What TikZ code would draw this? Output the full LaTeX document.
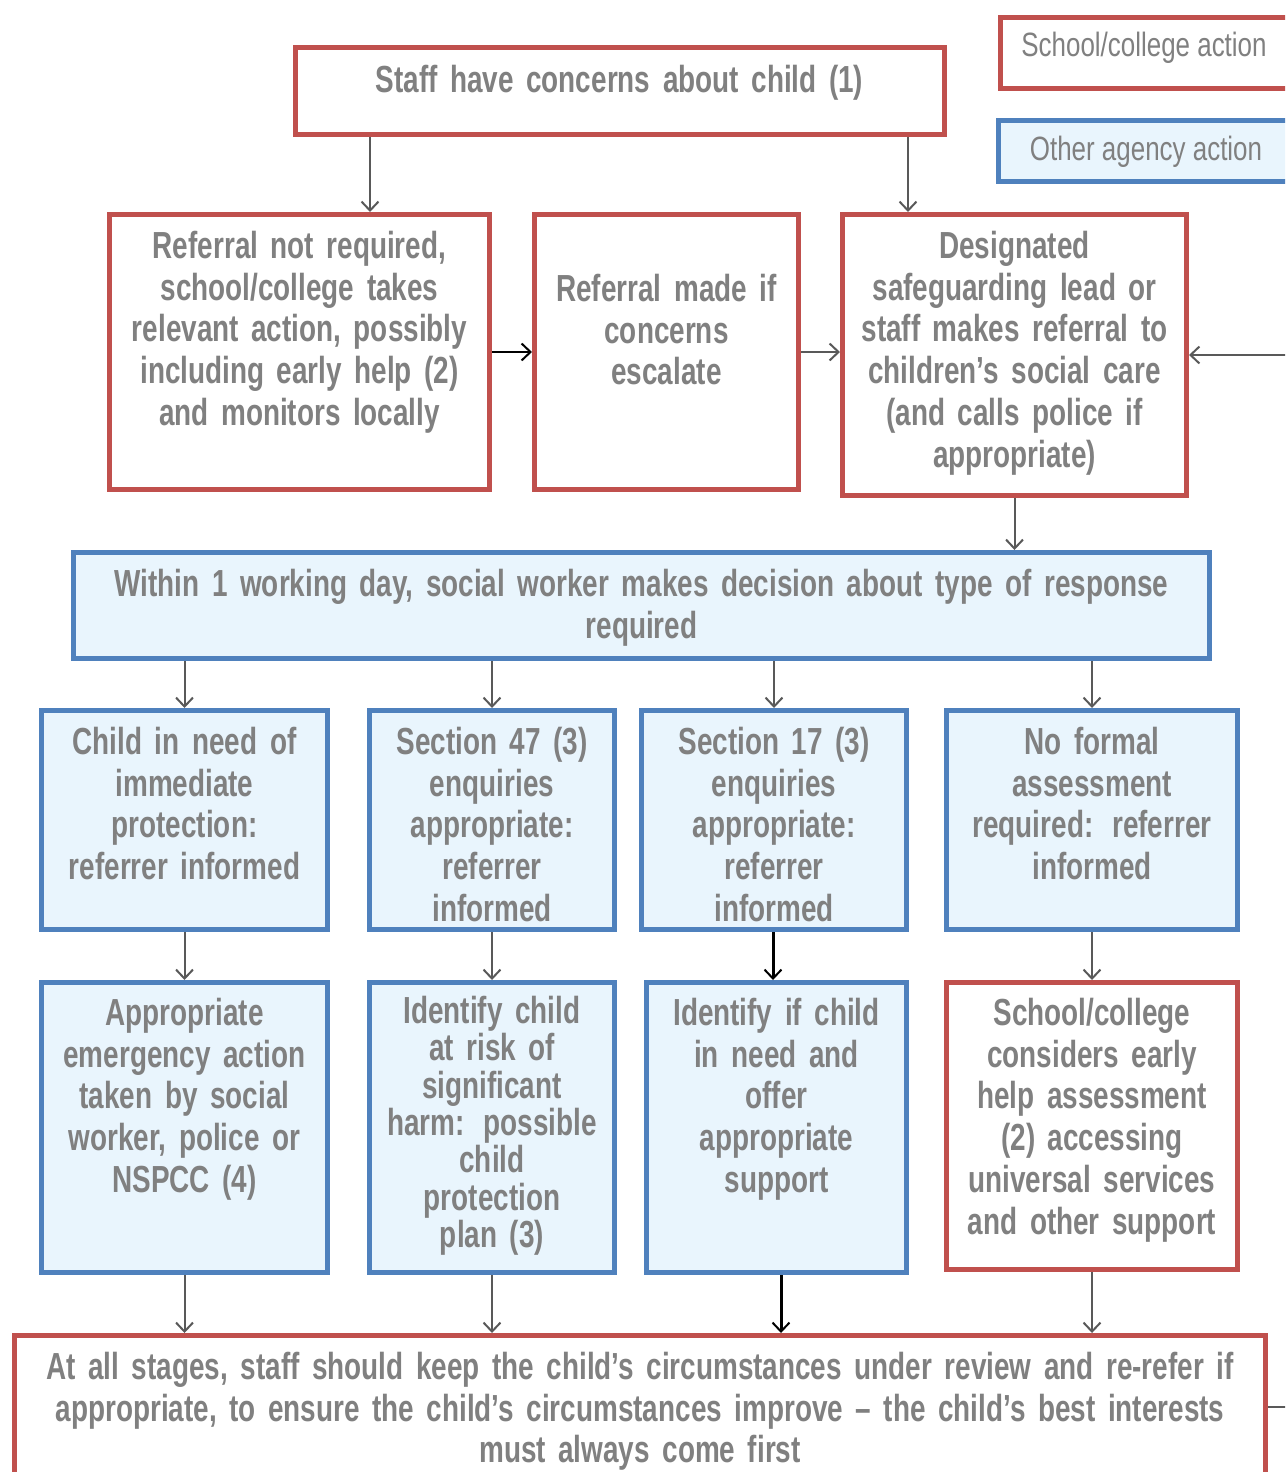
\documentclass[tikz,border=0pt]{standalone}
\usepackage{fontspec}
\setmainfont{Liberation Sans}[FakeStretch=0.77]
\newfontfamily\boxface{Liberation Sans Bold}[FakeStretch=0.74]
\usetikzlibrary{arrows.meta}
\definecolor{BoxRed}{HTML}{C0504D}
\definecolor{BoxBlue}{HTML}{4F81BD}
\definecolor{PaleBlue}{HTML}{E9F5FD}
\definecolor{TextGrey}{HTML}{808080}
\newcommand\boxfont[1]{\boxface\fontsize{37.7}{#1}\selectfont}

\begin{document}
\begin{tikzpicture}[x=1pt,y=-1pt,
  school/.style={draw=BoxRed,fill=white,line width=5pt,inner sep=0pt},
  agency/.style={draw=BoxBlue,fill=PaleBlue,line width=5pt,inner sep=0pt},
  words/.style={text=TextGrey,align=center,anchor=base,inner sep=0pt,
    font=\boxfont{41.7}},
  keywords/.style={text=TextGrey,anchor=base,inner sep=0pt,
    font=\fontsize{33.7}{38}\selectfont},
  arr/.style={draw=black!65,line width=2pt,
    -{Straight Barb[length=9pt,width=17pt,line width=2pt]}},
  darkarr/.style={arr,draw=black,line width=3pt}]
\useasboundingbox (0,0) rectangle (1285,1472);
\clip (0,0) rectangle (1285,1472);

% key
\node[school,minimum width=290pt,minimum height=70pt] (keyschool) at (1145,53) {};
\node[keywords] (keyschool-t) at (1144,57) {School/college action};
\node[agency,minimum width=292pt,minimum height=61pt] (keyagency) at (1144,150.5) {};
\node[keywords] (keyagency-t) at (1146,160) {Other agency action};

% first row
\node[school,minimum width=649pt,minimum height=86pt] (staff) at (619.5,91) {};
\node[words,text width=680pt] (staff-t) at (619.5,92.5) {Staff have concerns about child (1)};

\node[school,minimum width=380pt,minimum height=275pt] (refno) at (299.5,352) {};
\node[words,text width=420pt] (refno-t) at (299.5,258.5)
  {Referral not required,\\school/college takes\\relevant action, possibly\\including early help (2)\\and monitors locally};
\node[school,minimum width=264pt,minimum height=275pt] (escal) at (666.5,352) {};
\node[words,text width=300pt] (escal-t) at (666.5,301.5) {Referral made if\\concerns\\escalate};
\node[school,minimum width=344pt,minimum height=281pt] (dsl) at (1014.5,355) {};
\node[words,text width=380pt] (dsl-t) at (1014.5,258.5)
  {Designated\\safeguarding lead or\\staff makes referral to\\children’s social care\\(and calls police if\\appropriate)};

% social worker decision
\node[agency,minimum width=1136pt,minimum height=106pt] (within) at (641.5,605.5) {};
\node[words,text width=1140pt] (within-t) at (641.5,596.5)
  {Within 1 working day, social worker makes decision about type of response\\required};

% responses
\node[agency,minimum width=286pt,minimum height=219pt] (need) at (184.5,820) {};
\node[words,text width=320pt] (need-t) at (184.5,754.5) {Child in need of\\immediate\\protection:\\referrer informed};
\node[agency,minimum width=245pt,minimum height=219pt] (sfs) at (492,820) {};
\node[words,text width=280pt] (sfs-t) at (492,754.5) {Section 47 (3)\\enquiries\\appropriate:\\referrer\\informed};
\node[agency,minimum width=265pt,minimum height=219pt] (sst) at (774,820) {};
\node[words,text width=300pt] (sst-t) at (774,754.5) {Section 17 (3)\\enquiries\\appropriate:\\referrer\\informed};
\node[agency,minimum width=291pt,minimum height=219pt] (noform) at (1092,820) {};
\node[words,text width=320pt] (noform-t) at (1092,754.5) {No formal\\assessment\\required: referrer\\informed};

% outcomes
\node[agency,minimum width=286pt,minimum height=290pt] (emerg) at (184.5,1127.5) {};
\node[words,text width=320pt] (emerg-t) at (184.5,1025.5)
  {Appropriate\\emergency action\\taken by social\\worker, police or\\NSPCC (4)};
\node[agency,minimum width=245pt,minimum height=290pt] (harm) at (492,1127.5) {};
\node[words,text width=280pt,font=\boxfont{37.3}] (harm-t) at (492,1023.5)
  {Identify child\\at risk of\\significant\\harm: possible\\child\\protection\\plan (3)};
\node[agency,minimum width=260pt,minimum height=290pt] (support) at (776.5,1127.5) {};
\node[words,text width=300pt] (support-t) at (776.5,1025.5)
  {Identify if child\\in need and\\offer\\appropriate\\support};
\node[school,minimum width=291pt,minimum height=287pt] (early) at (1092,1126) {};
\node[words,text width=320pt] (early-t) at (1092,1025.5)
  {School/college\\considers early\\help assessment\\(2) accessing\\universal services\\and other support};

% review
\node[school,minimum width=1251pt,minimum height=165pt] (review) at (640,1418) {};
\node[words,text width=1260pt] (review-t) at (640,1379.5)
  {At all stages, staff should keep the child’s circumstances under review and re-refer if\\appropriate, to ensure the child’s circumstances improve – the child’s best interests\\must always come first};
\coordinate (loop) at (1310,1407);

% connectors
\draw[arr] ([xshift=70.5pt]refno.north |- staff.south) -- ([xshift=70.5pt]refno.north);
\draw[arr] ([xshift=-106.5pt]dsl.north |- staff.south) -- ([xshift=-106.5pt]dsl.north);
\draw[arr,draw=black] (refno.east) -- (escal.west);
\draw[arr] (escal.east) -- (escal.east -| dsl.west);
\draw[arr] (review.east |- loop) -- (loop) |- (dsl.east);
\draw[arr] (dsl.south) -- (dsl.south |- within.north);
\foreach \n in {need,sfs,noform}
  \draw[arr] (\n.north |- within.south) -- (\n.north);
\draw[arr] (sst.north |- within.south) -- (sst.north);
\draw[arr] (need.south) -- (emerg.north);
\draw[arr] (sfs.south) -- (harm.north);
\draw[darkarr] ([xshift=-1pt]sst.south) -- ([xshift=-1pt]sst.south |- support.north);
\draw[arr] (noform.south) -- (noform.south |- early.north);
\foreach \n in {emerg,harm,early}
  \draw[arr] (\n.south) -- (\n.south |- review.north);
\draw[darkarr] ([xshift=4.5pt]support.south) -- ([xshift=4.5pt]support.south |- review.north);
\end{tikzpicture}
\end{document}
